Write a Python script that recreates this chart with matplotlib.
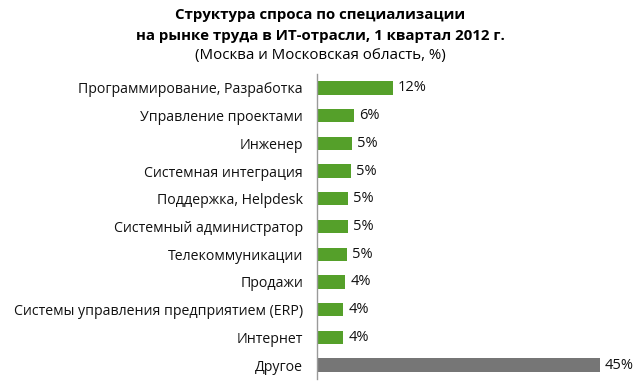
import matplotlib
matplotlib.use("Agg")
import matplotlib.pyplot as plt

# Data
categories = [
    "Программирование, Разработка",
    "Управление проектами",
    "Инженер",
    "Системная интеграция",
    "Поддержка, Helpdesk",
    "Системный администратор",
    "Телекоммуникации",
    "Продажи",
    "Системы управления предприятием (ERP)",
    "Интернет",
    "Другое",
]
values = [12.1, 5.9, 5.6, 5.4, 5.0, 4.9, 4.7, 4.5, 4.2, 4.2, 45.0]
value_labels = ["12%", "6%", "5%", "5%", "5%", "5%", "5%", "4%", "4%", "4%", "45%"]

GREEN = "#55a02a"
GREY = "#767676"

plt.rcParams["font.family"] = ["Open Sans", "DejaVu Sans"]

fig = plt.figure(figsize=(6.4, 3.87), dpi=100)
ax = fig.add_axes([317 / 640, 8 / 387, 313 / 640, 305 / 387])

colors = [GREEN] * (len(values) - 1) + [GREY]
ypos = list(range(len(values)))
ax.barh(ypos, values, height=0.48, color=colors)

for y, v, lab in zip(ypos, values, value_labels):
    ax.text(v + 0.8, y, lab, va="center", ha="left", fontsize=10.5, color="#111111")

ax.set_xlim(0, 49.8)
ax.set_ylim(len(values) - 0.5, -0.5)
ax.set_yticks(ypos)
ax.set_yticklabels(categories, fontsize=10.2, color="#111111")
ax.tick_params(axis="y", length=0, pad=10)
ax.set_xticks([])

for side in ["top", "right", "bottom"]:
    ax.spines[side].set_visible(False)
ax.spines["left"].set_color("#9a9a9a")
ax.spines["left"].set_linewidth(1.0)

fig.text(0.5, 1 - 15 / 387, "Структура спроса по специализации",
         ha="center", va="center", fontsize=10.8, fontweight="bold")
fig.text(0.5, 1 - 36 / 387, "на рынке труда в ИТ-отрасли, 1 квартал 2012 г.",
         ha="center", va="center", fontsize=10.8, fontweight="bold")
fig.text(0.5, 1 - 56 / 387, "(Москва и Московская область, %)",
         ha="center", va="center", fontsize=10.8)

fig.savefig("out.png", dpi=100)
